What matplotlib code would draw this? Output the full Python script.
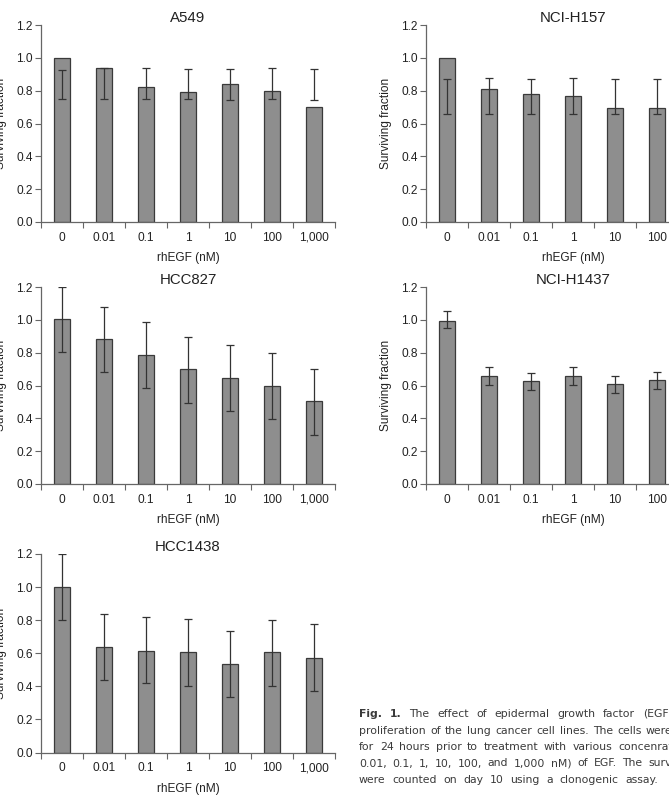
import numpy as np
import matplotlib
matplotlib.use('Agg')
import matplotlib.pyplot as plt

plt.rcParams['font.family'] = ['Liberation Sans', 'DejaVu Sans']

# categorias de la concentracion de rhEGF
doses = ['0', '0.01', '0.1', '1', '10', '100', '1,000']

# valores: media, extremo inferior y superior de la barra de error
a549_mean = [1.0, 0.937, 0.823, 0.791, 0.841, 0.800, 0.703]
a549_low = [0.748, 0.748, 0.748, 0.748, 0.744, 0.748, 0.742]
a549_high = [0.926, 0.937, 0.939, 0.935, 0.933, 0.939, 0.935]

h157_mean = [1.0, 0.809, 0.780, 0.768, 0.697, 0.693]
h157_low = [0.657, 0.657, 0.657, 0.657, 0.659, 0.659]
h157_high = [0.872, 0.878, 0.872, 0.878, 0.874, 0.874]

hcc827_mean = [1.004, 0.884, 0.783, 0.702, 0.647, 0.599, 0.506]
hcc827_low = [0.803, 0.682, 0.585, 0.492, 0.447, 0.395, 0.299]
hcc827_high = [1.2, 1.079, 0.985, 0.896, 0.848, 0.801, 0.702]

h1437_mean = [0.993, 0.656, 0.625, 0.660, 0.611, 0.631]
h1437_low = [0.949, 0.601, 0.573, 0.605, 0.554, 0.577]
h1437_high = [1.054, 0.714, 0.678, 0.710, 0.660, 0.682]

hcc1438_mean = [1.0, 0.640, 0.616, 0.610, 0.536, 0.606, 0.572]
hcc1438_low = [0.801, 0.439, 0.423, 0.403, 0.335, 0.399, 0.374]
hcc1438_high = [1.2, 0.839, 0.821, 0.806, 0.735, 0.801, 0.775]

W, H = 669, 801
fig = plt.figure(figsize=(W / 100, H / 100), dpi=100)

text_col = '#222222'
axis_col = '#666666'


def panel(x_left, y_top, y_bottom, title, mean, low, high):
    ax = fig.add_axes([x_left / W, 1 - y_bottom / H, 294 / W, (y_bottom - y_top) / H])
    x = np.arange(len(mean))
    ax.bar(x, mean, width=0.4, color='#8e8e8e', edgecolor='#3a3a3a', linewidth=0.9, zorder=2)
    low = np.array(low)
    high = np.array(high)
    ax.errorbar(x, (low + high) / 2, yerr=(high - low) / 2, fmt='none', ecolor='#333333',
                elinewidth=0.9, capsize=2.6, capthick=0.9, zorder=3)
    ax.set_xlim(-0.5, len(doses) - 0.5)
    ax.set_ylim(0, 1.2)
    ax.set_yticks(np.arange(0, 1.21, 0.2))
    ax.set_yticklabels(['%.1f' % v for v in np.arange(0, 1.21, 0.2)], fontsize=8.6, color=text_col)
    # marcas en los limites de categoria, etiquetas al centro
    ax.set_xticks(np.arange(-0.5, len(doses), 1.0))
    ax.set_xticklabels([])
    ax.set_xticks(np.arange(len(doses)), minor=True)
    ax.set_xticklabels(doses, minor=True, fontsize=8.6, color=text_col)
    ax.tick_params(axis='x', which='minor', length=0, pad=7)
    ax.tick_params(axis='x', which='major', length=4, width=0.8, color=axis_col)
    ax.tick_params(axis='y', length=4, width=0.8, color=axis_col, pad=2)
    for s in ['top', 'right']:
        ax.spines[s].set_visible(False)
    for s in ['left', 'bottom']:
        ax.spines[s].set_color(axis_col)
        ax.spines[s].set_linewidth(0.9)
    ax.set_title(title, fontsize=10.8, color=text_col, pad=-4)
    ax.set_xlabel('rhEGF (nM)', fontsize=8.6, color=text_col, labelpad=6)
    ax.set_ylabel('Surviving fraction', fontsize=8.6, color=text_col)
    ax.yaxis.set_label_coords(-34 / 294, 0.5)
    return ax


panel(41, 25, 222, 'A549', a549_mean, a549_low, a549_high)
panel(426, 25, 222, 'NCI-H157', h157_mean, h157_low, h157_high)
panel(41, 287, 484, 'HCC827', hcc827_mean, hcc827_low, hcc827_high)
panel(426, 287, 484, 'NCI-H1437', h1437_mean, h1437_low, h1437_high)
panel(41, 554, 752.5, 'HCC1438', hcc1438_mean, hcc1438_low, hcc1438_high)

# leyenda de la figura, justificada a mano
caption = [
    (['Fig.', '1.', 'The', 'effect', 'of', 'epidermal', 'growth', 'factor', '(EGF)'], 643),
    (['proliferation', 'of', 'the', 'lung', 'cancer', 'cell', 'lines.', 'The', 'cells', 'were'], 646),
    (['for', '24', 'hours', 'prior', 'to', 'treatment', 'with', 'various', 'concenrations'], 618),
    (['0.01,', '0.1,', '1,', '10,', '100,', 'and', '1,000', 'nM)', 'of', 'EGF.', 'The', 'surviving'], 648),
    (['were', 'counted', 'on', 'day', '10', 'using', 'a', 'clonogenic', 'assay.'], 625),
]
x0 = 359
renderer = fig.canvas.get_renderer()
for i, (words, x_last) in enumerate(caption):
    y = 714 + i * 16.5
    texts = []
    for j, w in enumerate(words):
        bold = i == 0 and j < 2
        t = fig.text(0, 1 - y / H, w, fontsize=7.8, color='#3a3a3a', va='center', ha='left',
                     family='DejaVu Sans', fontweight='bold' if bold else 'normal')
        texts.append(t)
    widths = [t.get_window_extent(renderer).width for t in texts]
    gap = (x_last - x0 - sum(widths[:-1])) / (len(words) - 1)
    xp = x0
    for t, wd in zip(texts, widths):
        t.set_x(xp / W)
        xp += wd + gap

fig.savefig('out.png', dpi=100)
